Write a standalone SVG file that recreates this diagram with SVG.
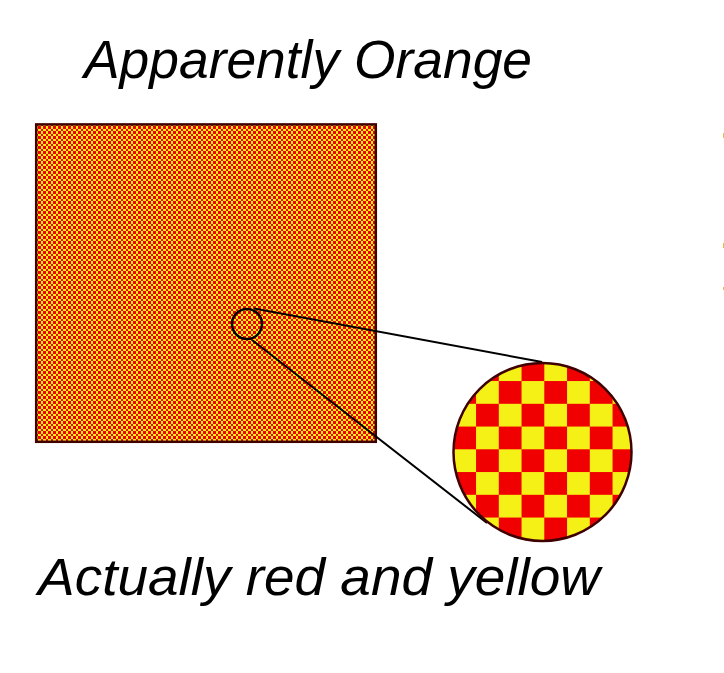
<svg xmlns="http://www.w3.org/2000/svg" width="724" height="673" viewBox="0 0 724 673">
  <style>
    .label { font-family: "Liberation Sans", Arial, sans-serif; font-style: italic; font-weight: normal; fill: #000000; }
    .border { fill: none; stroke: #400000; stroke-width: 2.5; }
    .conn { fill: none; stroke: #000000; stroke-width: 2; }
    .px { shape-rendering: crispEdges; }
  </style>
  <defs>
    <pattern id="fine" patternUnits="userSpaceOnUse" x="36" y="124" width="5" height="5">
      <rect class="px" x="0" y="0" width="5" height="5" fill="#f5f015"/>
      <rect class="px" x="0" y="0" width="2" height="2" fill="#f00000"/>
      <rect class="px" x="2" y="2" width="3" height="3" fill="#f00000"/>
    </pattern>
    <pattern id="coarse" patternUnits="userSpaceOnUse" x="453.3" y="358.3" width="45.5" height="45.5">
      <rect class="px" x="0" y="0" width="45.5" height="45.5" fill="#f5f015"/>
      <rect class="px" x="22.75" y="0" width="22.75" height="22.75" fill="#f00000"/>
      <rect class="px" x="0" y="22.75" width="22.75" height="22.75" fill="#f00000"/>
    </pattern>
  </defs>

  <rect x="0" y="0" width="724" height="673" fill="#ffffff"/>

  <g id="title">
    <text class="label" x="84" y="78" font-size="53" textLength="448" lengthAdjust="spacingAndGlyphs">Apparently Orange</text>
  </g>

  <g id="orange-square">
    <rect class="px" x="36" y="124" width="340" height="318" fill="url(#fine)"/>
    <rect class="border" x="36.2" y="124.4" width="339.6" height="317.4"/>
  </g>

  <g id="magnifier-spot">
    <circle cx="247" cy="324" r="15" fill="none" stroke="#000000" stroke-width="2.5"/>
  </g>

  <g id="connectors">
    <line class="conn" x1="254" y1="308.5" x2="542" y2="362"/>
    <line class="conn" x1="252" y1="340" x2="487" y2="523"/>
  </g>

  <g id="zoomed-circle">
    <circle cx="542.5" cy="452" r="89" fill="url(#coarse)"/>
    <circle class="border" cx="542.5" cy="452" r="89"/>
  </g>

  <g id="caption">
    <text class="label" x="38" y="595" font-size="51" textLength="562" lengthAdjust="spacingAndGlyphs">Actually red and yellow</text>
  </g>

  <g id="edge-marks" fill="#e8b850">
    <rect x="723" y="133" width="1" height="5"/>
    <rect x="723" y="243" width="1" height="5"/>
    <rect x="723" y="287" width="1" height="3"/>
  </g>
</svg>
